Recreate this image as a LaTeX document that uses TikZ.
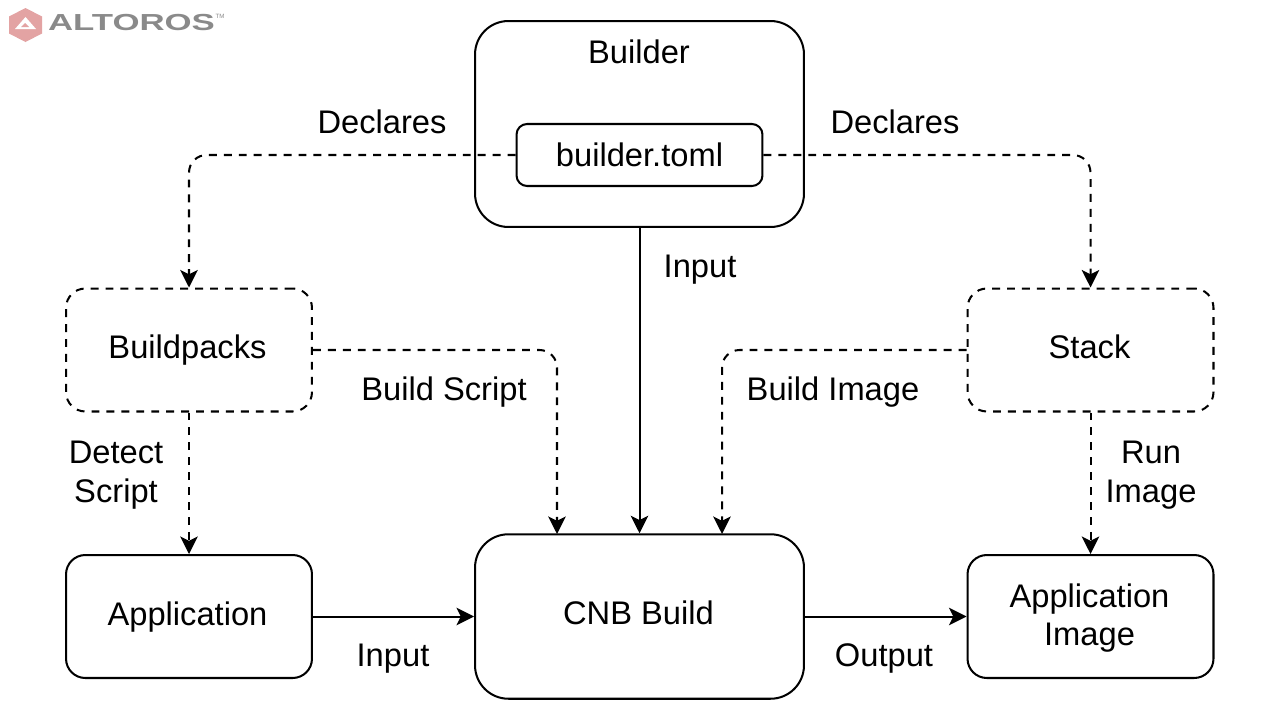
\documentclass[tikz,border=0pt]{standalone}
\usepackage{fontspec}
\setmainfont{Liberation Sans}
\usepackage{tikz}
\usetikzlibrary{arrows.meta, positioning}
\definecolor{logored}{HTML}{E3A3A3}
\definecolor{logogray}{HTML}{8A8A8A}
\tikzstyle{arr}  = [line width=1.15pt,-{Stealth[length=10pt,width=10pt,inset=2.5pt]}]
\tikzstyle{darr} = [arr, dash pattern=on 4.5pt off 4pt, rounded corners=10pt]

\begin{document}
\begin{tikzpicture}[x=0.02cm, y=-0.02cm,
    every node/.style={font=\fontsize{18.6}{22}\selectfont, align=center, inner sep=0pt},
    bigbox/.style={rectangle, draw, line width=1.15pt, rounded corners=19pt,
                   minimum width=6.58cm},
    stepbox/.style={rectangle, draw, line width=1.15pt, rounded corners=11pt,
                    minimum width=4.92cm, minimum height=2.46cm},
    dstepbox/.style={stepbox, dash pattern=on 4.5pt off 4pt},
    filebox/.style={rectangle, draw, line width=1.15pt, rounded corners=6pt,
                    minimum width=4.92cm, minimum height=1.24cm}]
  \useasboundingbox (0,0) rectangle (1280,720);

  % logo
  \fill[logored] (25.5,8) -- (42,16.5) -- (42,33.5) -- (25.5,42) -- (9,33.5) -- (9,16.5) -- cycle;
  \fill[white] (25.5,17) -- (36,29) -- (15,29) -- cycle;
  \fill[logored] (25,23) -- (29,27) -- (21,27) -- cycle;
  \node[font=\bfseries\fontsize{13.2}{15}\selectfont, text=logogray, xscale=1.5] (logo) at (131.5,22.5) {ALTOROS};
  \node[font=\fontsize{3.5}{4}\selectfont, text=logogray] (tm) at (220,16) {TM};

  % boxes
  \node[bigbox, minimum height=4.12cm] (builder) at (639.5,124) {};
  \node (buildertitle) at (639,52) {Builder};
  \node[filebox] (toml) at (639.5,155) {builder.toml};
  \node[dstepbox] (buildpacks) at (189,350) {};
  \node (buildpackstxt) at (187.5,350) {Buildpacks};
  \node[dstepbox] (stack)      at (1090.5,350) {};
  \node (stacktxt) at (1089.5,347) {Stack};
  \node[stepbox]  (app)        at (189,616.5) {};
  \node (apptxt) at (187.5,617) {Application};
  \node[bigbox, minimum height=3.29cm] (cnb) at (639.5,616.5) {};
  \node (cnbtxt) at (638.5,613) {CNB Build};
  \node[stepbox]  (appimage)   at (1090.5,616.5) {};
  \node (appimagetxt) at (1089.5,618) {Application\\Image};

  % helper points
  \coordinate (scriptin) at (557,534);
  \coordinate (imagein)  at (722,534);

  % connectors
  \draw[darr] (toml.west) -| (buildpacks.north);
  \draw[darr] (toml.east) -| (stack.north);
  \draw[arr]  (builder.south) -- (cnb.north);
  \draw[darr] (buildpacks.east) -| (scriptin);
  \draw[darr] (stack.west) -| (imagein);
  \draw[darr] (buildpacks.south) -- (app.north);
  \draw[darr] (stack.south) -- (appimage.north);
  \draw[arr]  (app.east) -- (cnb.west);
  \draw[arr]  (cnb.east) -- (appimage.west);

  % labels
  \node (decl1)  at (382,122) {Declares};
  \node (decl2)  at (895,122) {Declares};
  \node (input1) at (700,270) {Input};
  \node (bscript) at (444,392) {Build Script};
  \node (bimage)  at (833,392) {Build Image};
  \node (detect)  at (116,475) {Detect\\Script};
  \node (runimg)  at (1151,475) {Run\\Image};
  \node (input2) at (393,659) {Input};
  \node (output) at (884,658) {Output};
\end{tikzpicture}
\end{document}
